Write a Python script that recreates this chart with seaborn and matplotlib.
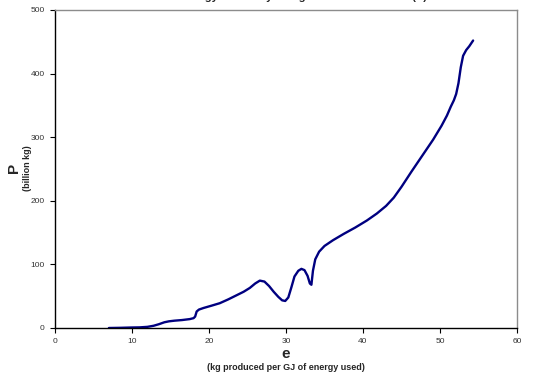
import matplotlib
matplotlib.use("Agg")
import matplotlib.pyplot as plt
import seaborn as sns
import pandas as pd

# Data
e_values = [7.0, 8.5, 10.0, 11.0, 12.0, 12.8, 13.5, 14.2, 14.8, 15.5, 16.5, 17.5, 18.0,
            18.2, 18.4, 18.7, 19.3, 20.3, 21.4, 22.5, 23.5, 24.5, 25.3, 26.0, 26.6,
            27.2, 27.8, 28.4, 29.0, 29.5, 29.9, 30.3, 30.7, 31.1, 31.6, 32.0, 32.4,
            32.8, 33.1, 33.3, 33.5, 33.8, 34.3, 35.0, 36.1, 37.5, 39.0, 40.5, 41.8,
            43.0, 44.0, 45.0, 46.3, 47.7, 49.1, 50.2, 50.9, 51.4, 51.8, 52.1, 52.4,
            52.7, 53.0, 53.4, 53.8, 54.3]
p_values = [0.0, 0.3, 0.8, 1.0, 1.8, 3.5, 6.0, 9.0, 10.5, 11.5, 12.5, 14.0, 15.5,
            18.0, 26.0, 29.0, 31.5, 35.0, 39.0, 45.0, 51.0, 57.0, 63.0, 70.0, 74.5,
            73.0, 66.0, 57.0, 49.0, 43.5, 42.5, 48.0, 64.0, 81.0, 90.0, 93.0, 91.0,
            82.0, 70.0, 68.0, 90.0, 108.0, 120.0, 129.0, 138.0, 148.0, 158.0, 169.0, 180.0,
            192.0, 205.0, 222.0, 246.0, 271.0, 296.0, 318.0, 334.0, 348.0, 358.0, 368.0, 385.0,
            410.0, 428.0, 437.0, 443.0, 452.0]

x_ticks = [0, 10, 20, 30, 40, 50, 60]
y_ticks = [0, 100, 200, 300, 400, 500]

df = pd.DataFrame({"e": e_values, "P": p_values})

sns.set_style("white")
plt.rcParams["font.family"] = ["Liberation Sans", "DejaVu Sans"]

fig = plt.figure(figsize=(5.36, 3.80), dpi=100)
ax = fig.add_axes([55 / 536, 1 - 328 / 380, (517 - 55) / 536, (328 - 10) / 380])

sns.lineplot(data=df, x="e", y="P", ax=ax, color="#000080", linewidth=1.7,
             sort=False, estimator=None)

ax.set_xlim(0, 60)
ax.set_ylim(0, 500)
ax.set_xticks(x_ticks)
ax.set_yticks(y_ticks)
ax.set_xticklabels([str(t) for t in x_ticks])
ax.set_yticklabels([str(t) for t in y_ticks])
ax.tick_params(axis="both", which="both", direction="out", length=3.5, width=0.8,
               labelsize=6, colors="black", labelcolor="#333333", pad=4)
ax.tick_params(top=False, right=False, bottom=True, left=True)
ax.set_xlabel("")
ax.set_ylabel("")
for side in ["left", "bottom"]:
    ax.spines[side].set_color("black")
    ax.spines[side].set_linewidth(1.0)
for side in ["top", "right"]:
    ax.spines[side].set_color("#8c8c8c")
    ax.spines[side].set_linewidth(1.0)
    ax.spines[side].set_visible(True)
ax.grid(False)

# Axis labels
fig.text(286 / 536, 1 - 354 / 380, "e", ha="center", va="center",
         fontsize=11, fontweight="bold")
fig.text(286 / 536, 1 - 368 / 380, "(kg produced per GJ of energy used)",
         ha="center", va="center", fontsize=6.5, fontweight="bold")
fig.text(14 / 536, 1 - 168 / 380, "P", ha="center", va="center", rotation=90,
         fontsize=11, fontweight="bold")
fig.text(27 / 536, 1 - 168 / 380, "(billion kg)", ha="center", va="center",
         rotation=90, fontsize=6.5, fontweight="bold")

# Title (mostly cut off at the top of the original image)
fig.text(303 / 536, 1 - 0.5 / 380, "Energy efficiency and global chemical total (P)",
         ha="center", va="baseline", fontsize=8, fontweight="bold")

fig.savefig("out.png", dpi=100)
